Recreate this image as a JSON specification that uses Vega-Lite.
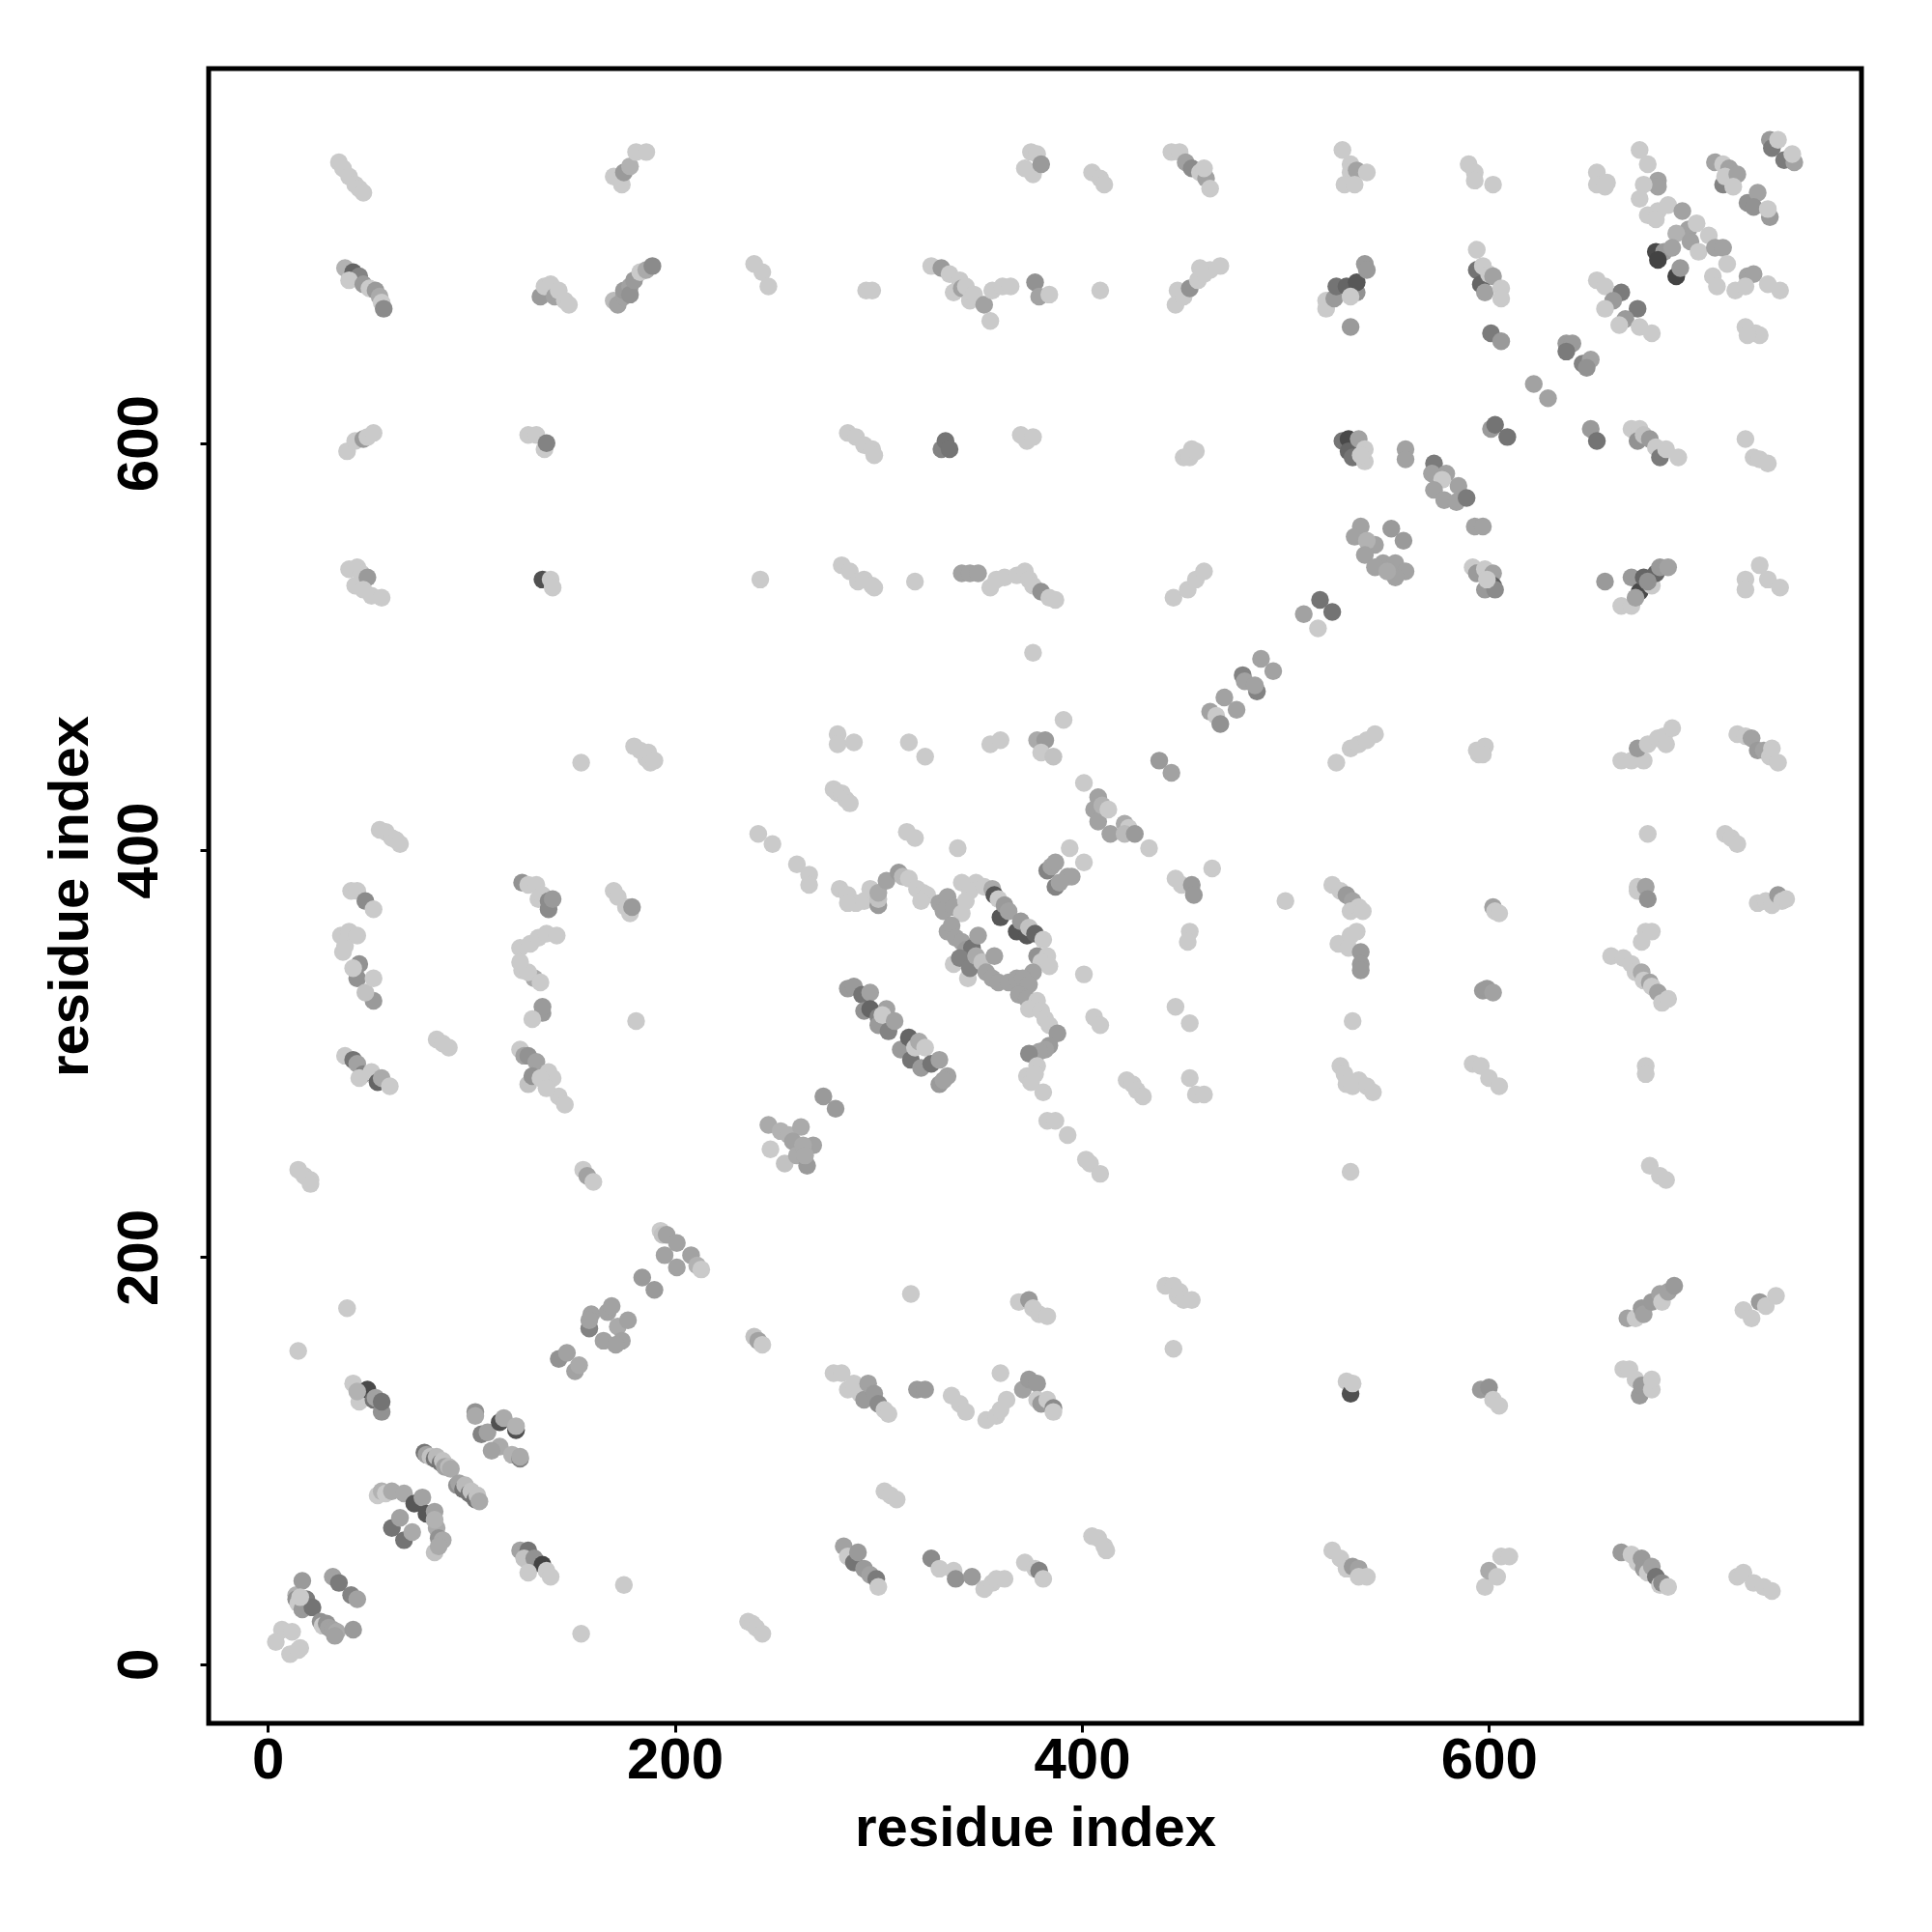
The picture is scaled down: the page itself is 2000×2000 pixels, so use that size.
{"$schema":"https://vega.github.io/schema/vega-lite/v6.json","autosize":{"type":"none"},"width":1711,"height":1713,"padding":{"left":216,"top":71,"right":73,"bottom":216},"background":"white","view":{"stroke":"black","strokeWidth":5,"fill":"white"},"config":{"axis":{"grid":false,"domain":false,"tickColor":"black","tickSize":9,"tickWidth":3,"labelFont":"Liberation Sans","labelFontWeight":"bold","labelFontSize":60,"labelColor":"black","titleFont":"Liberation Sans","titleFontWeight":"bold","titleFontSize":58,"titleColor":"black"}},
"data":{"values":[
{"x":7,"y":17,"p":0.05},{"x":4,"y":11,"p":0.05},{"x":11,"y":5,"p":0.05},{"x":16,"y":8,"p":0.05},{"x":12,"y":16,"p":0.05},{"x":15,"y":7,"p":0.05},
{"x":14,"y":34,"p":0.2},{"x":14,"y":32,"p":0.4},{"x":15,"y":30,"p":0.05},{"x":17,"y":41,"p":0.35},{"x":19,"y":32,"p":0.55},{"x":17,"y":27,"p":0.35},{"x":22,"y":28,"p":0.6},{"x":16,"y":33,"p":0.05},
{"x":26,"y":21,"p":0.4},{"x":27,"y":19,"p":0.05},{"x":29,"y":20,"p":0.4},{"x":30,"y":18,"p":0.3},{"x":32,"y":17,"p":0.3},{"x":34,"y":16,"p":0.25},{"x":33,"y":14,"p":0.3},{"x":42,"y":17,"p":0.35},
{"x":32,"y":43,"p":0.3},{"x":35,"y":40,"p":0.55},{"x":41,"y":34,"p":0.5},{"x":44,"y":32,"p":0.3},
{"x":54,"y":83,"p":0.05},{"x":56,"y":85,"p":0.2},{"x":58,"y":84,"p":0.05},{"x":61,"y":85,"p":0.25},{"x":67,"y":84,"p":0.25},{"x":72,"y":79,"p":0.8},{"x":76,"y":82,"p":0.3},{"x":78,"y":74,"p":0.8},{"x":82,"y":75,"p":0.3},{"x":83,"y":67,"p":0.25},{"x":82,"y":71,"p":0.2},{"x":84,"y":62,"p":0.4},{"x":86,"y":61,"p":0.25},{"x":82,"y":55,"p":0.1},{"x":84,"y":58,"p":0.25},{"x":61,"y":67,"p":0.6},{"x":65,"y":72,"p":0.3},{"x":67,"y":61,"p":0.6},{"x":71,"y":65,"p":0.25},
{"x":77,"y":104,"p":0.6},{"x":78,"y":103,"p":0.3},{"x":80,"y":102,"p":0.1},{"x":82,"y":101,"p":0.6},{"x":83,"y":102,"p":0.15},{"x":85,"y":99,"p":0.6},{"x":86,"y":100,"p":0.1},{"x":87,"y":97,"p":0.3},{"x":89,"y":97,"p":0.15},{"x":90,"y":96,"p":0.25},{"x":93,"y":88,"p":0.4},{"x":94,"y":89,"p":0.3},{"x":96,"y":86,"p":0.6},{"x":97,"y":88,"p":0.15},{"x":99,"y":84,"p":0.6},{"x":100,"y":85,"p":0.1},{"x":102,"y":81,"p":0.6},{"x":103,"y":83,"p":0.1},{"x":104,"y":80,"p":0.25},
{"x":102,"y":124,"p":0.4},{"x":102,"y":122,"p":0.25},{"x":105,"y":113,"p":0.5},{"x":108,"y":114,"p":0.3},{"x":114,"y":119,"p":0.85},{"x":116,"y":121,"p":0.25},{"x":122,"y":115,"p":0.85},{"x":122,"y":117,"p":0.2},{"x":114,"y":107,"p":0.25},{"x":110,"y":105,"p":0.3},{"x":120,"y":103,"p":0.2},{"x":124,"y":101,"p":0.5},{"x":124,"y":102,"p":0.25},
{"x":143,"y":150,"p":0.4},{"x":147,"y":153,"p":0.3},{"x":151,"y":144,"p":0.3},{"x":153,"y":147,"p":0.25},
{"x":158,"y":165,"p":0.5},{"x":159,"y":172,"p":0.3},{"x":158,"y":169,"p":0.3},{"x":165,"y":159,"p":0.3},{"x":167,"y":173,"p":0.3},{"x":169,"y":176,"p":0.3},{"x":172,"y":166,"p":0.25},{"x":174,"y":159,"p":0.3},{"x":171,"y":157,"p":0.3},{"x":177,"y":169,"p":0.3},
{"x":184,"y":190,"p":0.35},{"x":190,"y":184,"p":0.35},
{"x":193,"y":213,"p":0.05},{"x":194,"y":211,"p":0.1},{"x":196,"y":211,"p":0.3},{"x":201,"y":207,"p":0.3},{"x":208,"y":201,"p":0.3},{"x":195,"y":201,"p":0.3},{"x":201,"y":195,"p":0.3},{"x":211,"y":196,"p":0.2},{"x":213,"y":194,"p":0.05},
{"x":181,"y":316,"p":0.05},{"x":154,"y":15,"p":0.05},{"x":175,"y":39,"p":0.05},{"x":39,"y":175,"p":0.05},{"x":15,"y":154,"p":0.05},
{"x":236,"y":21,"p":0.05},{"x":238,"y":20,"p":0.05},{"x":240,"y":18,"p":0.05},{"x":243,"y":15,"p":0.05},{"x":239,"y":161,"p":0.1},{"x":241,"y":159,"p":0.3},{"x":243,"y":157,"p":0.05},
{"x":155,"y":243,"p":0.05},{"x":157,"y":240,"p":0.3},{"x":160,"y":237,"p":0.05},{"x":15,"y":243,"p":0.05},{"x":18,"y":240,"p":0.05},{"x":21,"y":238,"p":0.05},{"x":21,"y":236,"p":0.05},
{"x":42,"y":138,"p":0.05},{"x":45,"y":129,"p":0.05},{"x":49,"y":135,"p":0.9},{"x":44,"y":134,"p":0.2},{"x":52,"y":130,"p":0.6},{"x":53,"y":131,"p":0.3},{"x":56,"y":124,"p":0.4},{"x":56,"y":129,"p":0.6},
{"x":124,"y":56,"p":0.3},{"x":128,"y":56,"p":0.6},{"x":126,"y":52,"p":0.1},{"x":131,"y":52,"p":0.4},{"x":135,"y":49,"p":0.95},{"x":128,"y":45,"p":0.05},{"x":137,"y":46,"p":0.05},{"x":139,"y":43,"p":0.05},
{"x":44,"y":337,"p":0.4},{"x":45,"y":344,"p":0.4},{"x":52,"y":326,"p":0.35},{"x":48,"y":330,"p":0.1},{"x":52,"y":337,"p":0.05},{"x":42,"y":342,"p":0.05},
{"x":83,"y":307,"p":0.05},{"x":86,"y":305,"p":0.05},{"x":89,"y":303,"p":0.05},
{"x":124,"y":302,"p":0.05},{"x":126,"y":299,"p":0.3},{"x":128,"y":299,"p":0.4},{"x":132,"y":296,"p":0.3},{"x":138,"y":291,"p":0.05},{"x":140,"y":288,"p":0.05},{"x":143,"y":279,"p":0.05},{"x":146,"y":275,"p":0.05},{"x":128,"y":285,"p":0.1},{"x":130,"y":289,"p":0.4},{"x":134,"y":288,"p":0.05},{"x":137,"y":283,"p":0.05},
{"x":38,"y":299,"p":0.05},{"x":42,"y":297,"p":0.6},{"x":44,"y":295,"p":0.3},{"x":47,"y":290,"p":0.5},{"x":51,"y":291,"p":0.05},{"x":54,"y":286,"p":0.7},{"x":56,"y":288,"p":0.25},{"x":60,"y":284,"p":0.05},{"x":45,"y":288,"p":0.05},
{"x":135,"y":320,"p":0.35},{"x":135,"y":323,"p":0.35},{"x":130,"y":317,"p":0.05},{"x":131,"y":337,"p":0.25},{"x":125,"y":341,"p":0.05},{"x":128,"y":340,"p":0.05},{"x":134,"y":335,"p":0.05},
{"x":280,"y":457,"p":0.05},{"x":280,"y":452,"p":0.05},{"x":288,"y":453,"p":0.05},{"x":315,"y":453,"p":0.05},{"x":323,"y":446,"p":0.05},{"x":355,"y":452,"p":0.05},{"x":360,"y":454,"p":0.05},{"x":378,"y":454,"p":0.25},{"x":382,"y":454,"p":0.35},{"x":380,"y":448,"p":0.05},{"x":386,"y":446,"p":0.1},{"x":438,"y":444,"p":0.35},{"x":444,"y":438,"p":0.3},{"x":401,"y":433,"p":0.05},{"x":391,"y":464,"p":0.05},
{"x":278,"y":430,"p":0.05},{"x":280,"y":428,"p":0.05},{"x":282,"y":428,"p":0.05},{"x":284,"y":425,"p":0.05},{"x":286,"y":423,"p":0.05},
{"x":408,"y":426,"p":0.3},{"x":406,"y":420,"p":0.3},{"x":408,"y":414,"p":0.3},{"x":410,"y":422,"p":0.2},{"x":413,"y":420,"p":0.05},{"x":414,"y":408,"p":0.3},{"x":421,"y":413,"p":0.25},{"x":423,"y":411,"p":0.05},{"x":421,"y":408,"p":0.15},{"x":426,"y":408,"p":0.35},{"x":433,"y":401,"p":0.05},
{"x":314,"y":409,"p":0.05},{"x":318,"y":406,"p":0.05},{"x":339,"y":401,"p":0.05},{"x":394,"y":401,"p":0.05},{"x":401,"y":394,"p":0.05},{"x":383,"y":390,"p":0.5},{"x":385,"y":392,"p":0.3},{"x":387,"y":394,"p":0.3},{"x":393,"y":387,"p":0.3},{"x":395,"y":387,"p":0.3},{"x":387,"y":382,"p":0.5},{"x":389,"y":384,"p":0.3},
{"x":446,"y":386,"p":0.05},{"x":449,"y":383,"p":0.05},{"x":454,"y":383,"p":0.35},{"x":455,"y":378,"p":0.35},{"x":464,"y":391,"p":0.05},{"x":453,"y":360,"p":0.05},{"x":452,"y":355,"p":0.05},{"x":401,"y":339,"p":0.05},{"x":446,"y":323,"p":0.05},{"x":453,"y":315,"p":0.05},{"x":406,"y":318,"p":0.05},{"x":409,"y":314,"p":0.05},
{"x":422,"y":287,"p":0.05},{"x":425,"y":285,"p":0.05},{"x":427,"y":282,"p":0.05},{"x":430,"y":279,"p":0.05},{"x":453,"y":288,"p":0.05},{"x":456,"y":280,"p":0.05},{"x":460,"y":280,"p":0.05},
{"x":383,"y":267,"p":0.05},{"x":387,"y":267,"p":0.05},{"x":393,"y":260,"p":0.05},{"x":402,"y":248,"p":0.05},{"x":404,"y":246,"p":0.05},{"x":409,"y":241,"p":0.05},
{"x":248,"y":403,"p":0.05},{"x":241,"y":408,"p":0.05},{"x":260,"y":393,"p":0.05},{"x":266,"y":388,"p":0.05},{"x":266,"y":383,"p":0.05},
{"x":281,"y":381,"p":0.05},{"x":285,"y":378,"p":0.05},{"x":289,"y":374,"p":0.05},{"x":285,"y":374,"p":0.05},{"x":293,"y":375,"p":0.05},{"x":296,"y":381,"p":0.05},{"x":300,"y":373,"p":0.35},{"x":300,"y":376,"p":0.1},{"x":300,"y":379,"p":0.25},{"x":304,"y":385,"p":0.3},{"x":310,"y":389,"p":0.35},{"x":312,"y":387,"p":0.15},{"x":315,"y":386,"p":0.05},{"x":319,"y":381,"p":0.05},{"x":322,"y":379,"p":0.05},{"x":324,"y":378,"p":0.05},{"x":321,"y":375,"p":0.05},{"x":330,"y":374,"p":0.3},{"x":334,"y":377,"p":0.3},{"x":332,"y":370,"p":0.3},{"x":337,"y":372,"p":0.3},{"x":341,"y":384,"p":0.05},{"x":348,"y":384,"p":0.05},{"x":345,"y":380,"p":0.05},{"x":352,"y":382,"p":0.05},{"x":343,"y":375,"p":0.05},{"x":341,"y":369,"p":0.05},{"x":356,"y":381,"p":0.25},{"x":357,"y":378,"p":0.8},{"x":359,"y":376,"p":0.05},{"x":360,"y":367,"p":0.8},{"x":362,"y":373,"p":0.35},{"x":364,"y":370,"p":0.3},{"x":368,"y":360,"p":0.8},{"x":370,"y":365,"p":0.35},{"x":373,"y":358,"p":0.8},{"x":374,"y":362,"p":0.1},{"x":377,"y":359,"p":0.7},{"x":381,"y":356,"p":0.05},{"x":378,"y":348,"p":0.4},{"x":383,"y":348,"p":0.05},{"x":380,"y":345,"p":0.05},{"x":384,"y":343,"p":0.05},{"x":376,"y":340,"p":0.3},
{"x":334,"y":360,"p":0.3},{"x":336,"y":363,"p":0.3},{"x":338,"y":357,"p":0.3},{"x":341,"y":355,"p":0.3},{"x":343,"y":351,"p":0.35},{"x":346,"y":352,"p":0.6},{"x":349,"y":358,"p":0.3},{"x":337,"y":344,"p":0.05},{"x":340,"y":347,"p":0.5},{"x":344,"y":337,"p":0.05},{"x":345,"y":342,"p":0.5},{"x":348,"y":348,"p":0.25},{"x":351,"y":345,"p":0.1},{"x":357,"y":348,"p":0.3},{"x":353,"y":340,"p":0.3},{"x":356,"y":337,"p":0.3},{"x":359,"y":335,"p":0.3},{"x":364,"y":335,"p":0.3},{"x":368,"y":337,"p":0.3},{"x":371,"y":337,"p":0.3},{"x":374,"y":334,"p":0.3},{"x":369,"y":329,"p":0.3},{"x":373,"y":327,"p":0.3},{"x":378,"y":326,"p":0.05},{"x":374,"y":322,"p":0.05},{"x":380,"y":321,"p":0.05},{"x":382,"y":317,"p":0.05},{"x":384,"y":314,"p":0.05},{"x":388,"y":310,"p":0.35},{"x":384,"y":304,"p":0.35},{"x":382,"y":302,"p":0.3},{"x":379,"y":301,"p":0.3},{"x":374,"y":300,"p":0.45},{"x":378,"y":294,"p":0.05},{"x":373,"y":289,"p":0.05},{"x":375,"y":286,"p":0.05},{"x":377,"y":290,"p":0.05},{"x":381,"y":281,"p":0.05},
{"x":285,"y":332,"p":0.35},{"x":288,"y":333,"p":0.35},{"x":292,"y":329,"p":0.6},{"x":293,"y":321,"p":0.4},{"x":296,"y":330,"p":0.3},{"x":296,"y":322,"p":0.7},{"x":300,"y":318,"p":0.5},{"x":300,"y":314,"p":0.35},{"x":304,"y":322,"p":0.3},{"x":302,"y":319,"p":0.05},{"x":305,"y":311,"p":0.5},{"x":308,"y":316,"p":0.3},{"x":311,"y":302,"p":0.35},{"x":315,"y":308,"p":0.7},{"x":316,"y":297,"p":0.6},{"x":318,"y":303,"p":0.05},{"x":320,"y":306,"p":0.25},{"x":321,"y":293,"p":0.35},{"x":323,"y":303,"p":0.05},{"x":326,"y":295,"p":0.6},{"x":330,"y":297,"p":0.3},{"x":330,"y":285,"p":0.35},{"x":334,"y":289,"p":0.3},{"x":332,"y":287,"p":0.3},
{"x":273,"y":279,"p":0.35},{"x":279,"y":273,"p":0.35},
{"x":246,"y":265,"p":0.25},{"x":252,"y":262,"p":0.2},{"x":256,"y":260,"p":0.2},{"x":262,"y":264,"p":0.25},{"x":258,"y":257,"p":0.3},{"x":247,"y":253,"p":0.05},{"x":254,"y":246,"p":0.1},{"x":260,"y":250,"p":0.25},{"x":265,"y":245,"p":0.35},{"x":268,"y":255,"p":0.3},{"x":263,"y":255,"p":0.25},{"x":264,"y":250,"p":0.25},
{"x":528,"y":744,"p":0.05},{"x":532,"y":737,"p":0.05},{"x":532,"y":733,"p":0.05},{"x":535,"y":734,"p":0.3},{"x":540,"y":733,"p":0.05},{"x":529,"y":727,"p":0.05},{"x":534,"y":727,"p":0.05},
{"x":590,"y":737,"p":0.05},{"x":593,"y":733,"p":0.05},{"x":593,"y":729,"p":0.05},{"x":602,"y":727,"p":0.05},
{"x":653,"y":733,"p":0.05},{"x":653,"y":727,"p":0.05},{"x":658,"y":728,"p":0.05},{"x":657,"y":726,"p":0.05},
{"x":674,"y":744,"p":0.05},{"x":678,"y":737,"p":0.05},{"x":683,"y":729,"p":0.3},{"x":683,"y":726,"p":0.3},{"x":676,"y":727,"p":0.05},{"x":674,"y":720,"p":0.05},{"x":678,"y":712,"p":0.05},{"x":683,"y":714,"p":0.05},{"x":688,"y":717,"p":0.05},{"x":682,"y":710,"p":0.05},
{"x":711,"y":738,"p":0.3},{"x":715,"y":737,"p":0.05},{"x":715,"y":727,"p":0.5},{"x":718,"y":735,"p":0.3},{"x":716,"y":731,"p":0.05},{"x":722,"y":732,"p":0.3},{"x":720,"y":726,"p":0.05},{"x":727,"y":718,"p":0.4},{"x":732,"y":723,"p":0.3},{"x":730,"y":716,"p":0.4},{"x":738,"y":711,"p":0.35},{"x":737,"y":715,"p":0.05},
{"x":738,"y":749,"p":0.35},{"x":739,"y":745,"p":0.55},{"x":742,"y":749,"p":0.05},{"x":745,"y":739,"p":0.55},{"x":750,"y":738,"p":0.3},{"x":749,"y":742,"p":0.05},
{"x":695,"y":714,"p":0.3},{"x":698,"y":705,"p":0.3},{"x":692,"y":703,"p":0.2},{"x":702,"y":708,"p":0.05},{"x":708,"y":702,"p":0.05},{"x":699,"y":699,"p":0.3},{"x":703,"y":694,"p":0.05},{"x":711,"y":696,"p":0.3},{"x":715,"y":696,"p":0.3},
{"x":682,"y":694,"p":0.9},{"x":686,"y":694,"p":0.35},{"x":683,"y":690,"p":0.95},{"x":692,"y":682,"p":0.95},{"x":694,"y":686,"p":0.35},{"x":690,"y":696,"p":0.3},
{"x":717,"y":688,"p":0.05},{"x":710,"y":682,"p":0.05},{"x":712,"y":677,"p":0.05},{"x":721,"y":675,"p":0.05},{"x":727,"y":682,"p":0.3},{"x":730,"y":683,"p":0.3},{"x":726,"y":677,"p":0.05},{"x":737,"y":678,"p":0.05},{"x":743,"y":675,"p":0.05},
{"x":726,"y":657,"p":0.05},{"x":731,"y":654,"p":0.05},{"x":733,"y":653,"p":0.05},{"x":727,"y":653,"p":0.05},
{"x":653,"y":680,"p":0.05},{"x":657,"y":677,"p":0.05},{"x":665,"y":674,"p":0.55},{"x":661,"y":670,"p":0.35},{"x":657,"y":666,"p":0.05},{"x":673,"y":666,"p":0.55},{"x":667,"y":661,"p":0.35},{"x":664,"y":658,"p":0.05},{"x":674,"y":657,"p":0.05},{"x":680,"y":654,"p":0.05},
{"x":520,"y":666,"p":0.05},{"x":520,"y":670,"p":0.05},{"x":524,"y":671,"p":0.35},{"x":525,"y":677,"p":0.6},{"x":530,"y":677,"p":0.7},{"x":535,"y":674,"p":0.4},{"x":535,"y":679,"p":0.8},{"x":532,"y":672,"p":0.05},{"x":539,"y":688,"p":0.35},{"x":540,"y":685,"p":0.35},{"x":532,"y":657,"p":0.35},
{"x":594,"y":695,"p":0.05},{"x":594,"y":685,"p":0.6},{"x":597,"y":687,"p":0.05},{"x":596,"y":678,"p":0.7},{"x":598,"y":674,"p":0.3},{"x":600,"y":683,"p":0.05},{"x":602,"y":682,"p":0.3},{"x":606,"y":676,"p":0.05},{"x":606,"y":671,"p":0.05},
{"x":601,"y":654,"p":0.55},{"x":606,"y":650,"p":0.35},
{"x":638,"y":649,"p":0.35},{"x":641,"y":649,"p":0.35},{"x":638,"y":645,"p":0.55},{"x":646,"y":639,"p":0.5},{"x":650,"y":641,"p":0.3},{"x":648,"y":637,"p":0.4},
{"x":622,"y":629,"p":0.3},{"x":629,"y":622,"p":0.3},
{"x":517,"y":523,"p":0.6},{"x":523,"y":517,"p":0.6},{"x":509,"y":516,"p":0.3},{"x":516,"y":509,"p":0.05},{"x":488,"y":494,"p":0.3},{"x":494,"y":488,"p":0.3},
{"x":463,"y":468,"p":0.3},{"x":466,"y":466,"p":0.05},{"x":470,"y":475,"p":0.3},{"x":476,"y":469,"p":0.3},{"x":468,"y":462,"p":0.4},{"x":479,"y":486,"p":0.5},{"x":480,"y":483,"p":0.3},{"x":486,"y":478,"p":0.5},{"x":485,"y":481,"p":0.3},
{"x":601,"y":607,"p":0.35},{"x":603,"y":609,"p":0.6},{"x":609,"y":603,"p":0.6},{"x":650,"y":607,"p":0.35},{"x":653,"y":601,"p":0.6},
{"x":528,"y":601,"p":0.6},{"x":531,"y":602,"p":0.9},{"x":531,"y":596,"p":0.7},{"x":533,"y":593,"p":0.6},{"x":536,"y":602,"p":0.3},{"x":539,"y":597,"p":0.05},{"x":539,"y":591,"p":0.05},{"x":537,"y":594,"p":0.05},
{"x":559,"y":597,"p":0.3},{"x":559,"y":592,"p":0.3},
{"x":573,"y":590,"p":0.55},{"x":572,"y":585,"p":0.3},{"x":579,"y":585,"p":0.3},{"x":577,"y":582,"p":0.05},{"x":585,"y":579,"p":0.3},{"x":573,"y":577,"p":0.3},{"x":578,"y":572,"p":0.3},{"x":584,"y":571,"p":0.3},{"x":589,"y":573,"p":0.55},
{"x":593,"y":559,"p":0.3},{"x":597,"y":559,"p":0.3},
{"x":670,"y":607,"p":0.05},{"x":674,"y":607,"p":0.05},{"x":673,"y":601,"p":0.4},{"x":676,"y":604,"p":0.1},{"x":679,"y":602,"p":0.35},{"x":682,"y":598,"p":0.05},{"x":684,"y":593,"p":0.55},{"x":687,"y":597,"p":0.05},{"x":693,"y":593,"p":0.05},
{"x":726,"y":602,"p":0.05},{"x":730,"y":593,"p":0.05},{"x":733,"y":592,"p":0.05},{"x":737,"y":590,"p":0.05},
{"x":537,"y":559,"p":0.3},{"x":534,"y":554,"p":0.3},{"x":544,"y":550,"p":0.3},{"x":540,"y":552,"p":0.2},{"x":552,"y":558,"p":0.35},{"x":558,"y":552,"p":0.35},{"x":539,"y":545,"p":0.3},{"x":548,"y":541,"p":0.3},{"x":554,"y":541,"p":0.3},{"x":544,"y":539,"p":0.3},{"x":559,"y":537,"p":0.3},{"x":554,"y":534,"p":0.3},{"x":550,"y":537,"p":0.25},
{"x":592,"y":539,"p":0.05},{"x":594,"y":536,"p":0.35},{"x":598,"y":538,"p":0.05},{"x":602,"y":536,"p":0.3},{"x":602,"y":530,"p":0.75},{"x":598,"y":528,"p":0.35},{"x":603,"y":528,"p":0.45},{"x":599,"y":533,"p":0.05},
{"x":657,"y":532,"p":0.35},{"x":665,"y":520,"p":0.05},{"x":670,"y":520,"p":0.05},{"x":670,"y":534,"p":0.35},{"x":674,"y":527,"p":0.9},{"x":672,"y":524,"p":0.3},{"x":676,"y":534,"p":0.7},{"x":680,"y":530,"p":0.05},{"x":682,"y":536,"p":0.7},{"x":684,"y":539,"p":0.35},{"x":688,"y":539,"p":0.3},{"x":678,"y":532,"p":0.4},
{"x":726,"y":533,"p":0.05},{"x":733,"y":540,"p":0.05},{"x":737,"y":533,"p":0.05},{"x":743,"y":529,"p":0.05},{"x":726,"y":528,"p":0.05},
{"x":35,"y":738,"p":0.05},{"x":37,"y":735,"p":0.05},{"x":40,"y":731,"p":0.05},{"x":43,"y":727,"p":0.05},{"x":45,"y":725,"p":0.05},{"x":47,"y":723,"p":0.05},
{"x":38,"y":686,"p":0.2},{"x":42,"y":684,"p":0.7},{"x":45,"y":682,"p":0.5},{"x":40,"y":680,"p":0.05},{"x":47,"y":678,"p":0.35},{"x":50,"y":676,"p":0.05},{"x":53,"y":675,"p":0.35},{"x":55,"y":672,"p":0.25},{"x":56,"y":669,"p":0.05},{"x":57,"y":666,"p":0.45},
{"x":134,"y":672,"p":0.35},{"x":136,"y":677,"p":0.05},{"x":139,"y":678,"p":0.05},{"x":141,"y":672,"p":0.3},{"x":143,"y":675,"p":0.05},{"x":146,"y":670,"p":0.05},{"x":148,"y":668,"p":0.05},
{"x":170,"y":731,"p":0.05},{"x":174,"y":727,"p":0.05},{"x":175,"y":733,"p":0.35},{"x":178,"y":736,"p":0.2},{"x":181,"y":743,"p":0.05},{"x":186,"y":743,"p":0.05},
{"x":170,"y":670,"p":0.15},{"x":172,"y":668,"p":0.3},{"x":175,"y":672,"p":0.3},{"x":175,"y":675,"p":0.35},{"x":178,"y":677,"p":0.3},{"x":178,"y":673,"p":0.4},{"x":180,"y":680,"p":0.35},{"x":183,"y":684,"p":0.05},{"x":186,"y":685,"p":0.25},{"x":189,"y":687,"p":0.45},
{"x":239,"y":688,"p":0.05},{"x":243,"y":684,"p":0.05},{"x":246,"y":677,"p":0.05},{"x":294,"y":675,"p":0.05},{"x":297,"y":675,"p":0.05},
{"x":326,"y":687,"p":0.05},{"x":331,"y":686,"p":0.35},{"x":335,"y":683,"p":0.05},{"x":337,"y":674,"p":0.05},{"x":340,"y":680,"p":0.05},{"x":341,"y":676,"p":0.3},{"x":343,"y":677,"p":0.05},{"x":345,"y":670,"p":0.05},{"x":347,"y":673,"p":0.05},{"x":352,"y":668,"p":0.3},{"x":355,"y":660,"p":0.05},{"x":356,"y":675,"p":0.05},{"x":361,"y":677,"p":0.05},{"x":365,"y":677,"p":0.05},
{"x":377,"y":679,"p":0.4},{"x":379,"y":672,"p":0.3},{"x":384,"y":673,"p":0.05},{"x":409,"y":675,"p":0.05},
{"x":444,"y":743,"p":0.05},{"x":448,"y":743,"p":0.05},{"x":451,"y":738,"p":0.3},{"x":454,"y":735,"p":0.45},{"x":458,"y":733,"p":0.05},{"x":461,"y":730,"p":0.3},{"x":463,"y":725,"p":0.05},{"x":460,"y":735,"p":0.05},
{"x":447,"y":675,"p":0.05},{"x":446,"y":668,"p":0.05},{"x":450,"y":672,"p":0.05},{"x":453,"y":676,"p":0.4},{"x":457,"y":680,"p":0.05},{"x":460,"y":683,"p":0.05},{"x":463,"y":685,"p":0.05},{"x":468,"y":687,"p":0.05},{"x":458,"y":686,"p":0.05},
{"x":405,"y":733,"p":0.05},{"x":409,"y":730,"p":0.05},{"x":411,"y":727,"p":0.05},
{"x":372,"y":735,"p":0.05},{"x":375,"y":743,"p":0.05},{"x":378,"y":742,"p":0.05},{"x":376,"y":732,"p":0.05},{"x":380,"y":737,"p":0.35},
{"x":39,"y":596,"p":0.05},{"x":43,"y":601,"p":0.05},{"x":47,"y":602,"p":0.35},{"x":49,"y":603,"p":0.05},{"x":52,"y":605,"p":0.05},
{"x":128,"y":604,"p":0.05},{"x":132,"y":604,"p":0.05},{"x":136,"y":597,"p":0.05},{"x":137,"y":600,"p":0.5},
{"x":285,"y":605,"p":0.05},{"x":289,"y":603,"p":0.05},{"x":293,"y":599,"p":0.05},{"x":297,"y":597,"p":0.05},{"x":298,"y":594,"p":0.05},
{"x":331,"y":597,"p":0.5},{"x":333,"y":601,"p":0.6},{"x":335,"y":597,"p":0.6},{"x":370,"y":604,"p":0.05},{"x":373,"y":601,"p":0.05},{"x":376,"y":603,"p":0.05},{"x":450,"y":593,"p":0.05},{"x":454,"y":597,"p":0.05},{"x":453,"y":593,"p":0.05},{"x":456,"y":596,"p":0.05},
{"x":40,"y":538,"p":0.05},{"x":44,"y":539,"p":0.05},{"x":43,"y":530,"p":0.05},{"x":46,"y":536,"p":0.05},{"x":49,"y":534,"p":0.35},{"x":47,"y":528,"p":0.05},{"x":51,"y":525,"p":0.05},{"x":56,"y":524,"p":0.05},
{"x":135,"y":533,"p":0.85},{"x":139,"y":533,"p":0.05},{"x":140,"y":529,"p":0.05},{"x":242,"y":533,"p":0.05},{"x":282,"y":540,"p":0.05},{"x":286,"y":537,"p":0.05},{"x":290,"y":532,"p":0.05},{"x":293,"y":533,"p":0.05},{"x":297,"y":530,"p":0.05},{"x":298,"y":529,"p":0.05},{"x":318,"y":532,"p":0.05},
{"x":341,"y":536,"p":0.3},{"x":345,"y":536,"p":0.3},{"x":349,"y":536,"p":0.3},{"x":355,"y":529,"p":0.05},{"x":358,"y":533,"p":0.05},{"x":362,"y":534,"p":0.05},{"x":368,"y":535,"p":0.05},{"x":372,"y":537,"p":0.05},{"x":374,"y":533,"p":0.05},{"x":376,"y":530,"p":0.05},{"x":380,"y":527,"p":0.4},{"x":384,"y":524,"p":0.05},{"x":387,"y":523,"p":0.05},{"x":376,"y":497,"p":0.05},
{"x":445,"y":524,"p":0.05},{"x":452,"y":528,"p":0.05},{"x":456,"y":533,"p":0.05},{"x":460,"y":537,"p":0.05},
{"x":154,"y":443,"p":0.05},{"x":180,"y":451,"p":0.05},{"x":183,"y":449,"p":0.05},{"x":186,"y":445,"p":0.05},{"x":187,"y":448,"p":0.05},{"x":188,"y":443,"p":0.05},{"x":190,"y":444,"p":0.05},
{"x":525,"y":443,"p":0.05},{"x":532,"y":450,"p":0.05},{"x":536,"y":452,"p":0.05},{"x":540,"y":454,"p":0.05},{"x":544,"y":457,"p":0.05},
{"x":594,"y":449,"p":0.05},{"x":598,"y":451,"p":0.05},{"x":595,"y":447,"p":0.05},{"x":597,"y":447,"p":0.05},
{"x":665,"y":444,"p":0.05},{"x":670,"y":444,"p":0.05},{"x":676,"y":444,"p":0.05},{"x":673,"y":450,"p":0.35},{"x":678,"y":452,"p":0.05},{"x":683,"y":455,"p":0.05},{"x":686,"y":456,"p":0.05},{"x":687,"y":452,"p":0.05},{"x":690,"y":460,"p":0.05},
{"x":722,"y":457,"p":0.05},{"x":726,"y":456,"p":0.05},{"x":729,"y":455,"p":0.3},{"x":732,"y":449,"p":0.35},{"x":735,"y":449,"p":0.3},{"x":738,"y":446,"p":0.05},{"x":739,"y":450,"p":0.05},{"x":742,"y":443,"p":0.05},
{"x":678,"y":408,"p":0.05},{"x":716,"y":408,"p":0.05},{"x":719,"y":406,"p":0.05},{"x":722,"y":403,"p":0.05},
{"x":55,"y":410,"p":0.05},{"x":58,"y":409,"p":0.05},{"x":61,"y":406,"p":0.05},{"x":63,"y":405,"p":0.05},{"x":65,"y":403,"p":0.05},
{"x":41,"y":380,"p":0.05},{"x":44,"y":380,"p":0.05},{"x":48,"y":375,"p":0.45},{"x":52,"y":371,"p":0.05},
{"x":125,"y":384,"p":0.4},{"x":128,"y":383,"p":0.05},{"x":132,"y":383,"p":0.05},{"x":133,"y":376,"p":0.05},{"x":135,"y":378,"p":0.05},{"x":138,"y":375,"p":0.45},{"x":138,"y":371,"p":0.45},{"x":140,"y":376,"p":0.35},
{"x":170,"y":380,"p":0.05},{"x":172,"y":377,"p":0.05},{"x":176,"y":372,"p":0.05},{"x":178,"y":369,"p":0.05},{"x":179,"y":372,"p":0.35},
{"x":500,"y":375,"p":0.05},{"x":523,"y":383,"p":0.05},{"x":527,"y":380,"p":0.05},{"x":530,"y":378,"p":0.35},{"x":533,"y":375,"p":0.3},{"x":532,"y":370,"p":0.05},{"x":536,"y":372,"p":0.05},{"x":538,"y":370,"p":0.05},
{"x":602,"y":372,"p":0.3},{"x":603,"y":370,"p":0.05},{"x":605,"y":369,"p":0.05},{"x":673,"y":382,"p":0.05},{"x":673,"y":380,"p":0.05},{"x":677,"y":382,"p":0.3},{"x":678,"y":376,"p":0.4},
{"x":732,"y":374,"p":0.05},{"x":736,"y":375,"p":0.05},{"x":739,"y":373,"p":0.05},{"x":742,"y":378,"p":0.35},{"x":744,"y":375,"p":0.05},{"x":746,"y":376,"p":0.05},
{"x":36,"y":358,"p":0.05},{"x":37,"y":350,"p":0.05},{"x":38,"y":353,"p":0.05},{"x":40,"y":360,"p":0.05},{"x":44,"y":358,"p":0.05},
{"x":124,"y":352,"p":0.05},{"x":129,"y":354,"p":0.05},{"x":133,"y":357,"p":0.05},{"x":137,"y":359,"p":0.05},{"x":142,"y":358,"p":0.05},{"x":124,"y":345,"p":0.05},
{"x":526,"y":354,"p":0.05},{"x":531,"y":352,"p":0.05},{"x":532,"y":358,"p":0.05},{"x":535,"y":360,"p":0.05},{"x":537,"y":350,"p":0.35},{"x":537,"y":344,"p":0.35},{"x":537,"y":341,"p":0.35},{"x":533,"y":316,"p":0.05},
{"x":597,"y":331,"p":0.35},{"x":599,"y":332,"p":0.35},{"x":602,"y":330,"p":0.3},
{"x":677,"y":360,"p":0.05},{"x":675,"y":355,"p":0.05},{"x":680,"y":360,"p":0.05},
{"x":660,"y":348,"p":0.05},{"x":666,"y":347,"p":0.05},{"x":670,"y":344,"p":0.05},{"x":672,"y":340,"p":0.05},{"x":675,"y":340,"p":0.25},{"x":676,"y":336,"p":0.05},{"x":679,"y":335,"p":0.3},{"x":680,"y":333,"p":0.05},{"x":683,"y":330,"p":0.3},{"x":685,"y":325,"p":0.05},{"x":688,"y":327,"p":0.05},
{"x":527,"y":294,"p":0.05},{"x":529,"y":290,"p":0.05},{"x":530,"y":285,"p":0.05},{"x":533,"y":284,"p":0.05},{"x":536,"y":287,"p":0.05},{"x":540,"y":284,"p":0.05},{"x":543,"y":281,"p":0.05},
{"x":592,"y":295,"p":0.05},{"x":596,"y":294,"p":0.05},{"x":600,"y":288,"p":0.05},{"x":605,"y":284,"p":0.05},{"x":677,"y":294,"p":0.05},{"x":677,"y":290,"p":0.05},
{"x":532,"y":242,"p":0.05},{"x":679,"y":245,"p":0.05},{"x":684,"y":240,"p":0.05},{"x":687,"y":238,"p":0.05},
{"x":441,"y":186,"p":0.05},{"x":445,"y":186,"p":0.05},{"x":447,"y":181,"p":0.05},{"x":448,"y":183,"p":0.05},{"x":450,"y":179,"p":0.05},{"x":454,"y":179,"p":0.05},
{"x":369,"y":178,"p":0.05},{"x":374,"y":179,"p":0.35},{"x":376,"y":175,"p":0.05},{"x":379,"y":172,"p":0.05},{"x":383,"y":171,"p":0.05},{"x":316,"y":182,"p":0.05},
{"x":668,"y":170,"p":0.3},{"x":672,"y":170,"p":0.05},{"x":675,"y":175,"p":0.35},{"x":676,"y":172,"p":0.3},{"x":680,"y":178,"p":0.35},{"x":684,"y":182,"p":0.3},{"x":685,"y":178,"p":0.05},{"x":688,"y":183,"p":0.3},{"x":691,"y":186,"p":0.35},
{"x":725,"y":174,"p":0.05},{"x":729,"y":170,"p":0.05},{"x":733,"y":178,"p":0.35},{"x":736,"y":176,"p":0.05},{"x":741,"y":181,"p":0.05},{"x":445,"y":155,"p":0.05},
{"x":278,"y":143,"p":0.05},{"x":282,"y":143,"p":0.05},{"x":285,"y":135,"p":0.05},{"x":288,"y":138,"p":0.05},{"x":291,"y":133,"p":0.05},{"x":293,"y":130,"p":0.35},{"x":295,"y":138,"p":0.3},{"x":298,"y":133,"p":0.35},{"x":300,"y":128,"p":0.45},{"x":303,"y":125,"p":0.05},{"x":305,"y":123,"p":0.05},
{"x":319,"y":135,"p":0.35},{"x":323,"y":135,"p":0.35},{"x":336,"y":132,"p":0.05},{"x":340,"y":128,"p":0.05},{"x":343,"y":124,"p":0.05},{"x":353,"y":120,"p":0.05},{"x":358,"y":122,"p":0.05},{"x":360,"y":125,"p":0.05},{"x":363,"y":130,"p":0.05},{"x":360,"y":143,"p":0.05},
{"x":371,"y":135,"p":0.3},{"x":374,"y":140,"p":0.35},{"x":378,"y":138,"p":0.35},{"x":378,"y":130,"p":0.05},{"x":380,"y":128,"p":0.35},{"x":383,"y":130,"p":0.05},{"x":386,"y":126,"p":0.45},{"x":386,"y":124,"p":0.05},
{"x":530,"y":139,"p":0.05},{"x":532,"y":133,"p":0.85},{"x":533,"y":138,"p":0.05},
{"x":596,"y":135,"p":0.35},{"x":600,"y":136,"p":0.4},{"x":602,"y":130,"p":0.05},{"x":605,"y":127,"p":0.05},
{"x":666,"y":145,"p":0.05},{"x":669,"y":145,"p":0.05},{"x":672,"y":140,"p":0.05},{"x":674,"y":132,"p":0.35},{"x":675,"y":137,"p":0.35},{"x":680,"y":135,"p":0.05},{"x":680,"y":140,"p":0.05},
{"x":283,"y":58,"p":0.3},{"x":285,"y":53,"p":0.05},{"x":288,"y":50,"p":0.6},{"x":290,"y":55,"p":0.35},{"x":293,"y":47,"p":0.35},{"x":296,"y":44,"p":0.3},{"x":299,"y":42,"p":0.55},{"x":300,"y":38,"p":0.05},
{"x":326,"y":52,"p":0.45},{"x":330,"y":47,"p":0.05},{"x":337,"y":46,"p":0.05},{"x":338,"y":42,"p":0.4},{"x":346,"y":43,"p":0.35},{"x":352,"y":37,"p":0.05},{"x":356,"y":40,"p":0.05},{"x":358,"y":42,"p":0.05},{"x":362,"y":42,"p":0.05},
{"x":372,"y":50,"p":0.05},{"x":377,"y":47,"p":0.05},{"x":379,"y":46,"p":0.5},{"x":381,"y":42,"p":0.05},
{"x":405,"y":63,"p":0.05},{"x":408,"y":62,"p":0.05},{"x":411,"y":58,"p":0.05},{"x":412,"y":56,"p":0.05},{"x":303,"y":85,"p":0.05},{"x":306,"y":83,"p":0.05},{"x":309,"y":81,"p":0.05},
{"x":523,"y":56,"p":0.05},{"x":527,"y":52,"p":0.05},{"x":530,"y":47,"p":0.05},{"x":533,"y":48,"p":0.35},{"x":536,"y":47,"p":0.3},{"x":536,"y":43,"p":0.05},{"x":540,"y":43,"p":0.05},
{"x":598,"y":38,"p":0.05},{"x":600,"y":46,"p":0.25},{"x":604,"y":43,"p":0.05},{"x":606,"y":53,"p":0.05},{"x":610,"y":53,"p":0.05},
{"x":665,"y":55,"p":0.35},{"x":670,"y":54,"p":0.05},{"x":673,"y":50,"p":0.05},{"x":675,"y":52,"p":0.35},{"x":676,"y":47,"p":0.35},{"x":678,"y":45,"p":0.05},{"x":680,"y":48,"p":0.3},{"x":682,"y":43,"p":0.6},{"x":684,"y":39,"p":0.05},{"x":685,"y":40,"p":0.45},{"x":688,"y":38,"p":0.05},
{"x":722,"y":43,"p":0.05},{"x":725,"y":45,"p":0.05},{"x":730,"y":40,"p":0.05},{"x":735,"y":38,"p":0.05},{"x":739,"y":36,"p":0.05}
]},
"mark":{"type":"point","shape":"circle","filled":true,"opacity":1,"size":340},
"encoding":{
"x":{"field":"x","type":"quantitative","scale":{"domain":[-29,783],"nice":false,"zero":false},"axis":{"values":[0,200,400,600],"format":"d","title":"residue index","labelPadding":0,"titlePadding":12}},
"y":{"field":"y","type":"quantitative","scale":{"domain":[-29,784],"nice":false,"zero":false},"axis":{"values":[0,200,400,600],"format":"d","title":"residue index","labelAngle":-90,"labelAlign":"center","labelBaseline":"bottom","labelPadding":32,"titlePadding":12}},
"color":{"field":"p","type":"quantitative","scale":{"domain":[0,1],"range":["#d2d2d2","#3c3c3c"]},"legend":null}
}}
